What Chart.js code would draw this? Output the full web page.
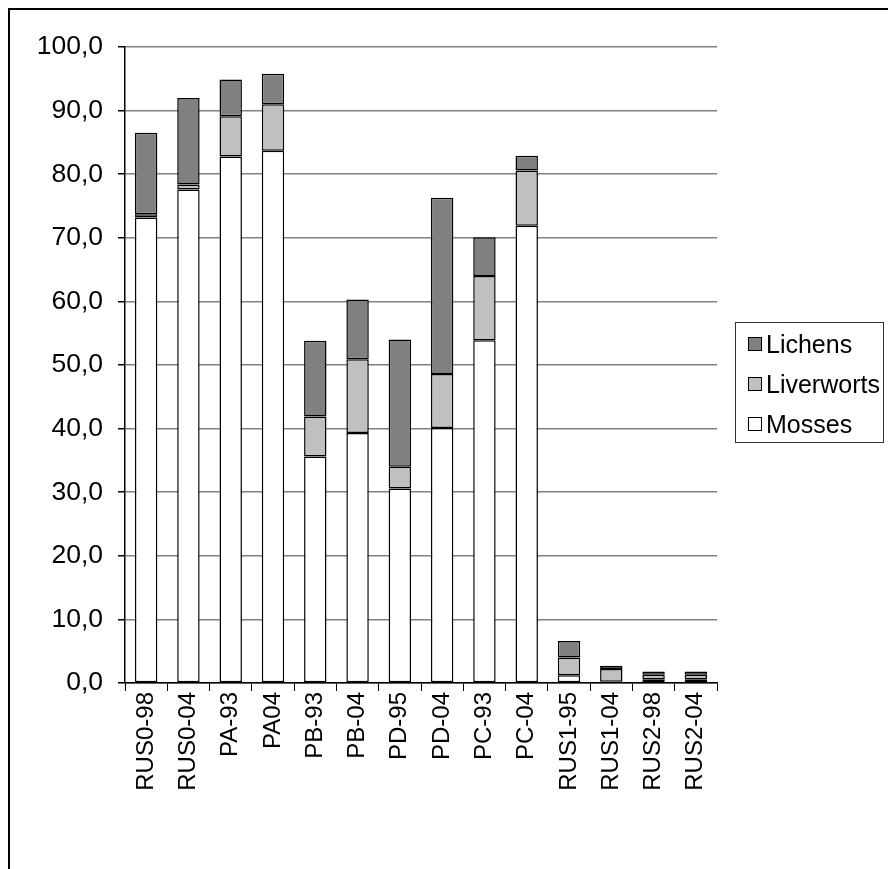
<!DOCTYPE html>
<html>
<head>
<meta charset="utf-8">
<script src="https://cdn.jsdelivr.net/npm/chart.js@4/dist/chart.umd.min.js"></script>
<style>
  body { margin: 0; background: #fff; font-family: "Liberation Sans", Arial, sans-serif; }
  #wrap { position: relative; width: 888px; height: 869px; overflow: hidden; }
  #frame { position: absolute; left: 8px; top: 8px; width: 900px; height: 900px;
           border-left: 2px solid #000; border-top: 2px solid #000; }
  #legend { position: absolute; left: 735px; top: 322px; width: 149px; height: 121px;
            border: 1px solid #333; box-sizing: border-box; padding-top: 1px; }
  .item { display: flex; align-items: center; height: 40px; font-size: 25px; color: #000; }
  .sw { width: 12px; height: 12px; border: 1px solid #000; margin: 0 4px 0 12px; }
</style>
</head>
<body>
<div id="wrap">
  <div id="frame"></div>
  <canvas id="chart" width="888" height="869"></canvas>
  <div id="legend"></div>
</div>
<script>
const sites = ["RUS0-98", "RUS0-04", "PA-93", "PA04", "PB-93", "PB-04", "PD-95", "PD-04", "PC-93", "PC-04", "RUS1-95", "RUS1-04", "RUS2-98", "RUS2-04"];
const mosses     = [73.2, 77.6, 82.8, 83.7, 35.6, 39.3, 30.6, 40.1, 53.9, 71.9, 1.2, 0.2, 0.6, 0.6];
const liverworts = [0.5, 0.8, 6.3, 7.3, 6.3, 11.6, 3.4, 8.5, 10.1, 8.7, 2.8, 2.0, 0.7, 0.7];
const lichens    = [12.8, 13.6, 5.8, 4.8, 11.9, 9.4, 20.0, 27.7, 6.1, 2.3, 2.6, 0.5, 0.5, 0.5];

const font = "'Liberation Sans', Arial, sans-serif";

const datasets = [
  { label: "Mosses", data: mosses, backgroundColor: "#ffffff" },
  { label: "Liverworts", data: liverworts, backgroundColor: "#c0c0c0" },
  { label: "Lichens", data: lichens, backgroundColor: "#808080" }
].map(d => ({ ...d, borderColor: "#000", borderWidth: 1.5, borderSkipped: false,
              barPercentage: 0.53, categoryPercentage: 1 }));

new Chart(document.getElementById("chart"), {
  type: "bar",
  data: { labels: sites, datasets: datasets },
  options: {
    responsive: false,
    animation: false,
    layout: { padding: { left: 0, right: 171, top: 47, bottom: 0 } },
    plugins: { legend: { display: false }, tooltip: { enabled: false } },
    scales: {
      x: {
        stacked: true,
        afterFit: s => { s.height = 186; },
        border: { color: "#000", width: 1.5 },
        grid: { drawOnChartArea: false, tickLength: 8, tickColor: "#000", offset: true },
        ticks: { minRotation: 90, maxRotation: 90, autoSkip: false, padding: 1,
                 color: "#000", font: { family: font, size: 24 } }
      },
      y: {
        stacked: true,
        min: 0, max: 100,
        afterFit: s => { s.width = 125; },
        border: { color: "#000", width: 1.5 },
        grid: { color: "#808080", lineWidth: 1.5, tickLength: 7, tickColor: "#000" },
        ticks: { stepSize: 10, padding: 15, color: "#000", font: { family: font, size: 26.5 },
                 callback: v => v.toFixed(1).replace(".", ",") }
      }
    }
  }
});

const legend = document.getElementById("legend");
datasets.slice().reverse().forEach(d => {
  const row = document.createElement("div");
  row.className = "item";
  row.innerHTML = '<span class="sw" style="background:' + d.backgroundColor + '"></span>' + d.label;
  legend.appendChild(row);
});
</script>
</body>
</html>
